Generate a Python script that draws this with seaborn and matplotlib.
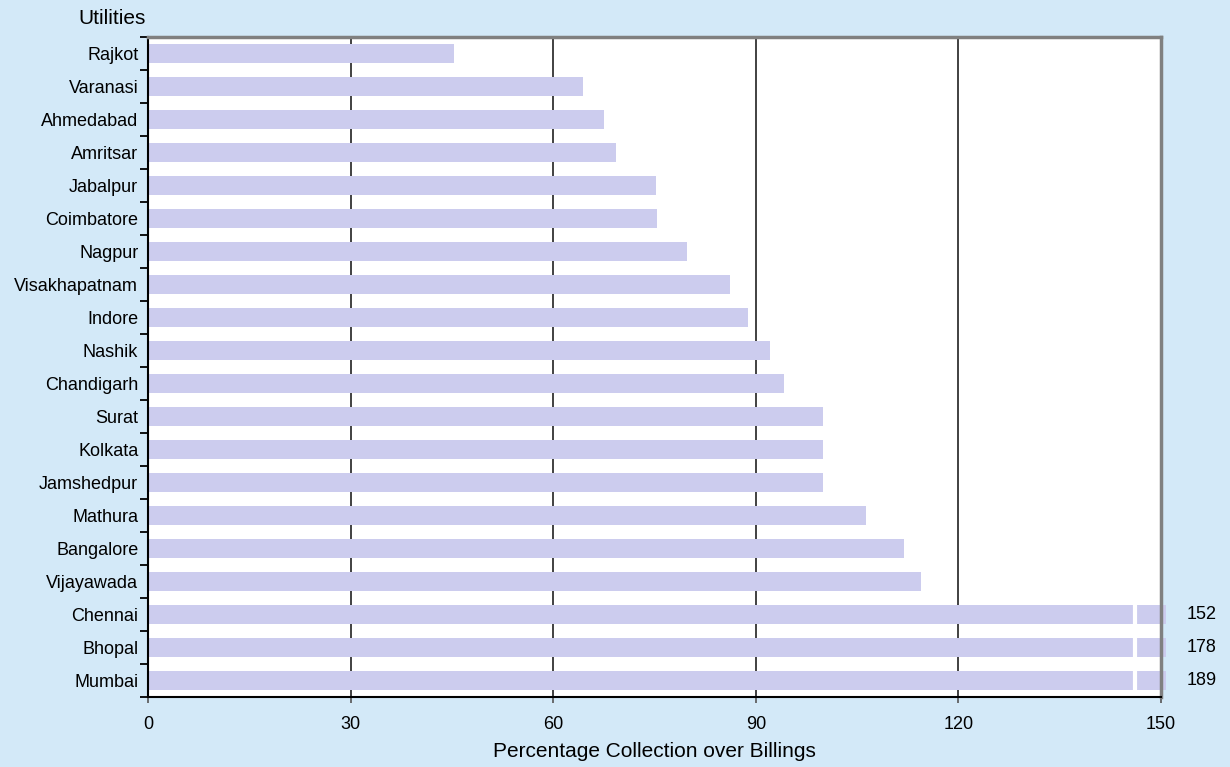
import matplotlib
matplotlib.use("Agg")
import matplotlib.pyplot as plt
import seaborn as sns
import pandas as pd
import numpy as np

sns.set_style("white")
plt.rcParams['font.family'] = ['Liberation Sans', 'DejaVu Sans']
plt.rcParams['text.color'] = 'black'
plt.rcParams['xtick.color'] = 'black'
plt.rcParams['ytick.color'] = 'black'
plt.rcParams['axes.labelcolor'] = 'black'

# data
utilities = ['Rajkot', 'Varanasi', 'Ahmedabad', 'Amritsar', 'Jabalpur', 'Coimbatore',
             'Nagpur', 'Visakhapatnam', 'Indore', 'Nashik', 'Chandigarh', 'Surat',
             'Kolkata', 'Jamshedpur', 'Mathura', 'Bangalore', 'Vijayawada',
             'Chennai', 'Bhopal', 'Mumbai']
collection_pct = [45.3, 64.4, 67.5, 69.3, 75.2, 75.4, 79.8, 86.2, 88.8, 92.1,
                  94.2, 100, 100, 100, 106.3, 112, 114.5, 152, 178, 189]
x_ticks = [0, 30, 60, 90, 120, 150]

axis_max = 150
bar_cap = 150.8      # bars beyond the axis are cut just past the frame
break_at = 146.2     # where the white break mark sits on cut bars

df = pd.DataFrame({'utility': utilities, 'pct': collection_pct})
df['shown'] = np.minimum(df['pct'], bar_cap)

bg = '#D3E9F8'
bar_color = '#CCCCEE'

fig = plt.figure(figsize=(12.3, 7.67), dpi=100, facecolor=bg)
ax = fig.add_axes([148 / 1230, 1 - 697 / 767, (1161 - 148) / 1230, (697 - 37) / 767])
ax.set_facecolor('white')

ax.set_axisbelow(True)
for x in x_ticks[1:-1]:
    ax.axvline(x, color='#333333', lw=1.3, zorder=0)

sns.barplot(data=df, x='shown', y='utility', orient='h', color=bar_color,
            saturation=1, width=0.58, ax=ax, zorder=2)
for p in ax.patches:
    p.set_clip_on(False)
    p.set_edgecolor('none')

ax.set_xlim(0, axis_max)
ax.set_ylim(len(utilities) - 0.5, -0.5)
ax.set_xticks(x_ticks)
ax.set_xticklabels([str(t) for t in x_ticks], fontsize=13)

# break marks and value labels for bars beyond the axis
for i, (v, p) in enumerate(zip(df['pct'], ax.patches)):
    if v > axis_max:
        y0 = p.get_y()
        h = p.get_height()
        ax.plot([break_at, break_at], [y0 - 0.02, y0 + h + 0.02], color='white',
                lw=3, solid_capstyle='butt', zorder=3, clip_on=False)
        ax.text(axis_max + 6, i, f'{v:.0f}', ha='center', va='center',
                fontsize=13, clip_on=False)

ax.set_yticks(range(len(utilities)))
ax.set_yticklabels(utilities, fontsize=13)
ax.set_yticks(np.arange(-0.5, len(utilities), 1), minor=True)
ax.tick_params(axis='y', which='major', left=False, length=0, pad=7)
ax.tick_params(axis='y', which='minor', left=True, length=6, width=1.3,
               color='black', direction='out')
ax.tick_params(axis='x', which='major', bottom=True, length=4, width=1.2,
               color='#555555', direction='out', pad=10)

for side in ['left', 'bottom']:
    ax.spines[side].set_color('black')
    ax.spines[side].set_linewidth(1.5)
for side in ['top', 'right']:
    ax.spines[side].set_color('#808080')
    ax.spines[side].set_linewidth(2.5)

ax.set_xlabel('Percentage Collection over Billings', fontsize=15, labelpad=6)
ax.set_ylabel('')
fig.text(112 / 1230, 1 - 19 / 767, 'Utilities', ha='center', va='center', fontsize=15)

fig.savefig('out.png', dpi=100, facecolor=bg)
